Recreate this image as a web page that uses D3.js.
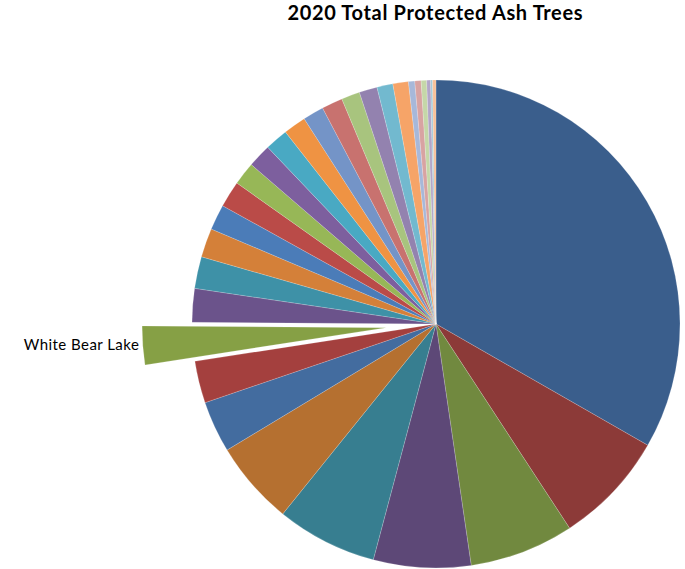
<!DOCTYPE html>
<html>
<head>
<meta charset="utf-8">
<script src="https://cdn.jsdelivr.net/npm/d3@7"></script>
<style>
  html, body { margin: 0; padding: 0; background: #fff; }
  svg { display: block; }
</style>
</head>
<body>
<svg id="chart" width="685" height="569"></svg>
<script>
// Protected ash trees per community, 2020 (slice order as drawn, clockwise from 12 o'clock)
const communities = [
  "Community 1", "Community 2", "Community 3", "Community 4", "Community 5", "Community 6",
  "Community 7", "Community 8", "White Bear Lake", "Community 10", "Community 11", "Community 12",
  "Community 13", "Community 14", "Community 15", "Community 16", "Community 17", "Community 18",
  "Community 19", "Community 20", "Community 21", "Community 22", "Community 23", "Community 24",
  "Community 25", "Community 26", "Community 27", "Community 28", "Community 29", "Community 30"
];
const protectedTrees = [
  3594, 810, 747, 696, 720, 600,
  369, 300, 276, 240, 228, 207,
  183, 189, 165, 168, 165, 162,
  150, 150, 132, 129, 114, 111,
  45, 45, 39, 28, 14, 24
];
const sliceColors = [
  "#3a5e8c", "#8c3a38", "#71893f", "#5d4877", "#377e90", "#b57030",
  "#436c9f", "#a4403e", "#86a045", "#6b538b", "#3e91a7", "#d48039",
  "#4b7cb8", "#ba4b48", "#97b757", "#7d5f9e", "#49a9c3", "#ef9343",
  "#7494c7", "#c8726f", "#a8c47e", "#9382af", "#72b9cf", "#f6a468",
  "#a7b8d9", "#d8a3a2", "#c5d7a8", "#b2a6c8", "#a3cad9", "#f7c19a"
];
const highlighted = "White Bear Lake";
const chartTitle = "2020 Total Protected Ash Trees";

const svg = d3.select("#chart");
const cx = 436, cy = 324, radius = 244, explodeOffset = 50;

svg.append("text")
  .attr("x", 435)
  .attr("y", 20)
  .attr("text-anchor", "middle")
  .attr("font-family", "Lato, 'Open Sans', sans-serif")
  .attr("font-weight", "bold")
  .attr("font-size", 20)
  .attr("textLength", 295)
  .attr("lengthAdjust", "spacing")
  .attr("fill", "#000")
  .text(chartTitle);

const rows = communities.map((name, i) => ({ name, value: protectedTrees[i], color: sliceColors[i] }));

const pie = d3.pie().value(d => d.value).sort(null).startAngle(0).endAngle(2 * Math.PI);
const arc = d3.arc().innerRadius(0).outerRadius(radius);
const arcs = pie(rows);

const g = svg.append("g").attr("transform", `translate(${cx},${cy})`);

function offsetFor(d) {
  if (d.data.name !== highlighted) return [0, 0];
  const mid = (d.startAngle + d.endAngle) / 2;
  return [Math.sin(mid) * explodeOffset, -Math.cos(mid) * explodeOffset];
}

g.selectAll("path.slice")
  .data(arcs)
  .join("path")
  .attr("class", "slice")
  .attr("d", arc)
  .attr("transform", d => `translate(${offsetFor(d)})`)
  .attr("fill", d => d.data.color)
  .attr("stroke", "#ffffff")
  .attr("stroke-opacity", 0.35)
  .attr("stroke-width", 0.5);

// Label for the pulled-out slice
const hl = arcs.find(d => d.data.name === highlighted);
const [ox, oy] = offsetFor(hl);
const mid = (hl.startAngle + hl.endAngle) / 2;
const lx = Math.sin(mid) * (radius + 4) + ox;
const ly = -Math.cos(mid) * (radius + 4) + oy;
svg.append("text")
  .attr("x", cx + lx)
  .attr("y", cy + ly - 1)
  .attr("dy", "0.35em")
  .attr("text-anchor", "end")
  .attr("font-family", "Lato, 'Open Sans', sans-serif")
  .attr("font-size", 15)
  .attr("textLength", 115)
  .attr("lengthAdjust", "spacing")
  .attr("fill", "#000")
  .text(hl.data.name);
</script>
</body>
</html>
